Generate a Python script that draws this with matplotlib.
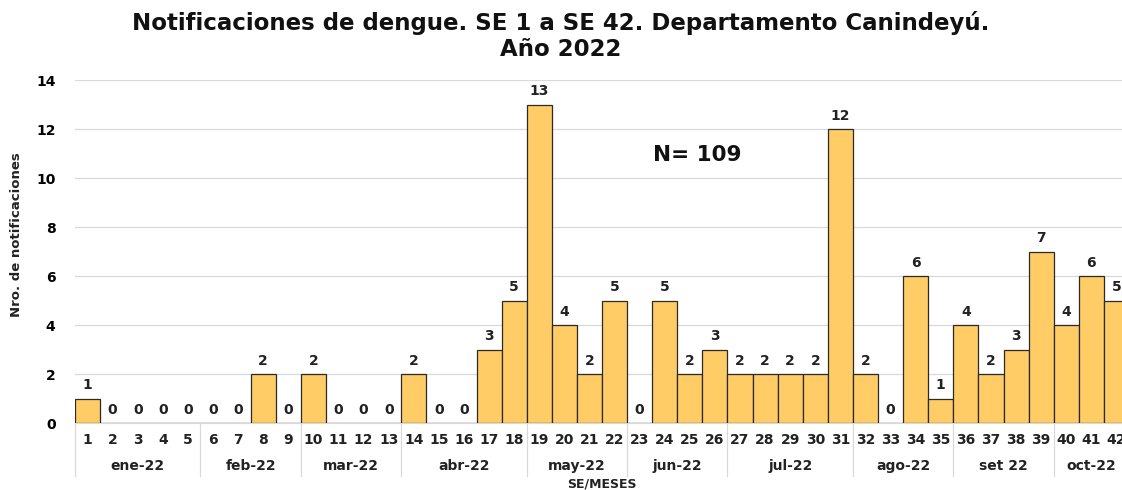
import matplotlib
matplotlib.use("Agg")
import matplotlib.pyplot as plt

weeks = [str(i) for i in range(1, 43)]
values = [1, 0, 0, 0, 0, 0, 0, 2, 0, 2, 0, 0, 0, 2, 0, 0, 3, 5, 13, 4, 2, 5,
          0, 5, 2, 3, 2, 2, 2, 2, 12, 2, 0, 6, 1, 4, 2, 3, 7, 4, 6, 5]
months = ["ene-22", "feb-22", "mar-22", "abr-22", "may-22", "jun-22",
          "jul-22", "ago-22", "set 22", "oct-22"]
month_weeks = [5, 4, 4, 5, 4, 4, 5, 4, 4, 3]

plt.rcParams['font.family'] = ['DejaVu Sans']
W, H = 1122, 490
fig = plt.figure(figsize=(W / 100, H / 100), dpi=100)
ax_h = 423 - 80
ax = fig.add_axes([75 / W, (H - 423) / H, 1054 / W, ax_h / H])

x = list(range(len(values)))
ax.bar(x, values, width=1.0, color="#FFCC66", edgecolor="#2a2a2a", linewidth=0.9, zorder=3)
for xi, v in zip(x, values):
    ax.text(xi, v + 0.25, str(v), ha="center", va="bottom", fontsize=10,
            fontweight="bold", color="#222222", zorder=4)

ax.set_xlim(-0.5, len(values) - 0.5)
ax.set_ylim(0, 14)
ax.set_yticks(range(0, 15, 2))
ax.yaxis.grid(True, color="#d9d9d9", linewidth=0.9, zorder=0)
ax.tick_params(axis="y", length=0, labelsize=10, pad=14)
for lab in ax.get_yticklabels():
    lab.set_fontweight("bold")
ax.set_xticks([])
for s in ["top", "right", "left"]:
    ax.spines[s].set_visible(False)
ax.spines["bottom"].set_color("#d9d9d9")

# week labels
trans = ax.get_xaxis_transform()
for xi, w in zip(x, weeks):
    ax.text(xi, -17 / ax_h, w, transform=trans, ha="center", va="center",
            fontsize=10, fontweight="bold", color="#222222", clip_on=False)

# month labels and separators
start = 0
bounds = [start]
for m, n in zip(months, month_weeks):
    center = start + n / 2 - 0.5
    ax.text(center, -43 / ax_h, m, transform=trans, ha="center", va="center",
            fontsize=10, fontweight="bold", color="#222222", clip_on=False)
    start += n
    bounds.append(start)
for b in bounds[:-1]:
    ax.plot([b - 0.5, b - 0.5], [0, -53 / ax_h], transform=trans, color="#d9d9d9",
            linewidth=0.9, clip_on=False)

ax.text(0.5, -61 / ax_h, "SE/MESES", transform=ax.transAxes, ha="center",
        va="center", fontsize=9, fontweight="bold", color="#222222")
fig.text(17 / W, 1 - 235 / H, "Nro. de notificaciones", rotation=90, ha="center",
         va="center", fontsize=9.5, fontweight="bold", color="#222222")

fig.text(0.5, 1 - 36 / H, "Notificaciones de dengue. SE 1 a SE 42. Departamento Canindeyú.\nAño 2022",
         ha="center", va="center", fontsize=16.5, fontweight="bold", color="#111111",
         linespacing=1.15)
ax.text(24.3, 10.95, "N= 109", ha="center", va="center", fontsize=15.5,
        fontweight="bold", color="#111111")

fig.savefig("out.png", dpi=100)
